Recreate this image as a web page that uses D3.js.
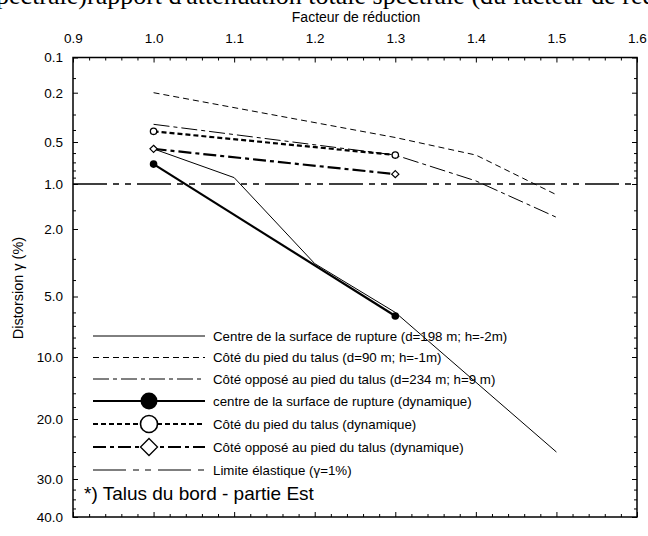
<!DOCTYPE html>
<html lang="fr">
<head>
<meta charset="utf-8">
<script src="https://cdn.jsdelivr.net/npm/d3@7"></script>
<style>
  html, body { margin: 0; padding: 0; background: #fff; }
  svg { display: block; }
  text { font-family: "Liberation Sans", Arial, sans-serif; fill: #000; }
</style>
</head>
<body>
<svg id="chart" width="648" height="536"></svg>
<script>
// ---- Data -------------------------------------------------------------
// Reduction factor (x) vs. distortion γ in % (y)
const centreX = [1.0, 1.1, 1.2, 1.3, 1.5];
const centreY = [0.56, 0.9, 3.2, 6.0, 25];

const piedX = [1.0, 1.3, 1.4, 1.5];
const piedY = [0.2, 0.46, 0.62, 1.18];

const opposeX = [1.0, 1.3, 1.4, 1.5];
const opposeY = [0.36, 0.62, 0.95, 1.67];

// dynamic analyses
const dynX = [1.0, 1.3];
const centreDynY = [0.72, 6.25];
const piedDynY = [0.41, 0.62];
const opposeDynY = [0.56, 0.85];

// elastic limit
const limiteY = 1.0;

// axis ticks
const xMajor = [0.9, 1.0, 1.1, 1.2, 1.3, 1.4, 1.5, 1.6];
const yMajor = [0.1, 0.2, 0.5, 1, 2, 5, 10, 20, 30, 40];
const yMinor = [0.15, 0.3, 0.4, 0.6, 0.7, 0.8, 0.9, 1.5, 3, 4, 6, 7, 8, 9,
                12.5, 15, 17.5, 22.5, 25, 27.5, 32.5, 35, 37.5];

const legendLabels = [
  "Centre de la surface de rupture (d=198 m; h=-2m)",
  "Côté du pied du talus (d=90 m; h=-1m)",
  "Côté opposé au pied du talus (d=234 m; h=9 m)",
  "centre de la surface de rupture (dynamique)",
  "Côté du pied du talus (dynamique)",
  "Côté opposé au pied du talus (dynamique)",
  "Limite élastique (γ=1%)"
];

// ---- Layout -----------------------------------------------------------
const L = 73, R = 637, T = 57.5, B = 517;
// pixel stop for each labelled y value (piecewise logarithmic axis)
const yStops = [T, 92.7, 142, 184, 229, 296.5, 357, 419, 479, B];

const svg = d3.select("#chart");

const x = d3.scaleLinear().domain([0.9, 1.6]).range([L, R]);
const y = d3.scaleLog().domain(yMajor).range(yStops);

// ---- Heading above the plot (runs off the top edge) ---------------------
svg.append("text")
  .attr("x", 87).attr("y", 4)
  .attr("text-anchor", "end")
  .style("font-family", "'Liberation Serif', 'Times New Roman', serif")
  .style("font-size", "26px")
  .text("Distorsion maximale (spectrale)");
svg.append("text")
  .attr("x", 87).attr("y", 4)
  .style("font-family", "'Liberation Serif', 'Times New Roman', serif")
  .style("font-size", "26px")
  .text(" rapport d'atténuation totale spectrale (du facteur de réduction)");

// ---- Axes -------------------------------------------------------------
const fmt1 = d3.format(".1f");
const xMinor = d3.range(0.92, 1.6, 0.02).filter(v => Math.abs(v * 10 - Math.round(v * 10)) > 0.01);

function styleAxis(g) {
  g.select(".domain").remove();
  g.selectAll(".tick line").attr("stroke", "#000").attr("stroke-width", 1);
  g.selectAll(".tick text").style("font-size", "13.5px")
    .style("font-family", "'Liberation Sans', Arial, sans-serif");
}

// top
svg.append("g").attr("transform", `translate(0,${T})`)
  .call(d3.axisTop(x).tickValues(xMajor).tickSizeInner(-5).tickSizeOuter(0)
    .tickPadding(15).tickFormat(fmt1))
  .call(styleAxis);
svg.append("g").attr("transform", `translate(0,${T})`)
  .call(d3.axisTop(x).tickValues(xMinor).tickSizeInner(-3).tickSizeOuter(0).tickFormat(""))
  .call(styleAxis);

// bottom (ticks only)
svg.append("g").attr("transform", `translate(0,${B})`)
  .call(d3.axisBottom(x).tickValues(xMajor).tickSizeInner(-5).tickSizeOuter(0).tickFormat(""))
  .call(styleAxis);
svg.append("g").attr("transform", `translate(0,${B})`)
  .call(d3.axisBottom(x).tickValues(xMinor).tickSizeInner(-3).tickSizeOuter(0).tickFormat(""))
  .call(styleAxis);

// left
svg.append("g").attr("transform", `translate(${L},0)`)
  .call(d3.axisLeft(y).tickValues(yMajor).tickSizeInner(-5).tickSizeOuter(0)
    .tickPadding(10).tickFormat(fmt1))
  .call(styleAxis);
svg.append("g").attr("transform", `translate(${L},0)`)
  .call(d3.axisLeft(y).tickValues(yMinor).tickSizeInner(-3).tickSizeOuter(0).tickFormat(""))
  .call(styleAxis);

// right (ticks only)
svg.append("g").attr("transform", `translate(${R},0)`)
  .call(d3.axisRight(y).tickValues(yMajor).tickSizeInner(-5).tickSizeOuter(0).tickFormat(""))
  .call(styleAxis);
svg.append("g").attr("transform", `translate(${R},0)`)
  .call(d3.axisRight(y).tickValues(yMinor).tickSizeInner(-3).tickSizeOuter(0).tickFormat(""))
  .call(styleAxis);

// frame
svg.append("rect")
  .attr("x", L).attr("y", T).attr("width", R - L).attr("height", B - T)
  .attr("fill", "none").attr("stroke", "#000").attr("stroke-width", 1.5);

// axis titles
svg.append("text")
  .attr("x", (L + R) / 2 + 1).attr("y", 22)
  .attr("text-anchor", "middle").style("font-size", "14px")
  .text("Facteur de réduction");
svg.append("text")
  .attr("transform", "translate(23,288) rotate(-90)")
  .attr("text-anchor", "middle").style("font-size", "14.5px")
  .text("Distorsion γ (%)");

// ---- Series -----------------------------------------------------------
const line = d3.line().x(d => x(d[0])).y(d => y(d[1]));
const zip = (xs, ys) => xs.map((v, i) => [v, ys[i]]);

const styles = {
  centre:    { w: 1,   dash: null },
  pied:      { w: 1,   dash: "6,4" },
  oppose:    { w: 1,   dash: "16,4,4,4" },
  centreDyn: { w: 2.2, dash: null },
  piedDyn:   { w: 2.2, dash: "5,3" },
  opposeDyn: { w: 2.2, dash: "13,4,4,4" },
  limite:    { w: 1.3, dash: "34,6,6,6,6,6" }
};

function drawLine(data, st) {
  svg.append("path").datum(data)
    .attr("d", line)
    .attr("fill", "none").attr("stroke", "#000")
    .attr("stroke-width", st.w)
    .attr("stroke-dasharray", st.dash);
}

// elastic limit across the whole factor range
drawLine([[0.9, limiteY], [1.6, limiteY]], styles.limite);

drawLine(zip(piedX, piedY), styles.pied);
drawLine(zip(opposeX, opposeY), styles.oppose);
drawLine(zip(centreX, centreY), styles.centre);
drawLine(zip(dynX, piedDynY), styles.piedDyn);
drawLine(zip(dynX, opposeDynY), styles.opposeDyn);
drawLine(zip(dynX, centreDynY), styles.centreDyn);

// markers
function marker(g, kind, cx, cy, r) {
  if (kind === "filled") {
    g.append("circle").attr("cx", cx).attr("cy", cy).attr("r", r).attr("fill", "#000");
  } else if (kind === "open") {
    g.append("circle").attr("cx", cx).attr("cy", cy).attr("r", r)
      .attr("fill", "#fff").attr("stroke", "#000").attr("stroke-width", r > 5 ? 1.6 : 1.3);
  } else if (kind === "diamond") {
    g.append("path")
      .attr("d", `M${cx},${cy - r}L${cx + r},${cy}L${cx},${cy + r}L${cx - r},${cy}Z`)
      .attr("fill", "#fff").attr("stroke", "#000").attr("stroke-width", r > 5 ? 1.3 : 1.2);
  }
}

const mk = svg.append("g");
zip(dynX, piedDynY).forEach(d => marker(mk, "open", x(d[0]), y(d[1]), 3.2));
zip(dynX, opposeDynY).forEach(d => marker(mk, "diamond", x(d[0]), y(d[1]), 3.6));
zip(dynX, centreDynY).forEach(d => marker(mk, "filled", x(d[0]), y(d[1]), 3.8));

// ---- Legend -----------------------------------------------------------
const legendRows = [336, 357.5, 379, 401, 424, 447, 470];
const legendKeys = ["centre", "pied", "oppose", "centreDyn", "piedDyn", "opposeDyn", "limite"];
const legendMarks = [null, null, null, "filled", "open", "diamond", null];
const lx0 = 93, lx1 = 205;
const lg = svg.append("g");
legendKeys.forEach((k, i) => {
  const st = styles[k];
  const yy = legendRows[i];
  lg.append("line")
    .attr("x1", lx0).attr("x2", lx1).attr("y1", yy).attr("y2", yy)
    .attr("stroke", "#000").attr("stroke-width", k === "limite" ? 1.1 : st.w)
    .attr("stroke-dasharray", k === "limite" ? "33,7,6,6,6,7" : st.dash);
  if (legendMarks[i]) marker(lg, legendMarks[i], (lx0 + lx1) / 2, yy, 8.5);
  lg.append("text")
    .attr("x", 213).attr("y", yy).attr("dy", "0.35em")
    .style("font-size", "13.3px")
    .text(legendLabels[i]);
});

svg.append("text")
  .attr("x", 84).attr("y", 500)
  .style("font-size", "19px")
  .text("*) Talus du bord - partie Est");
</script>
</body>
</html>
